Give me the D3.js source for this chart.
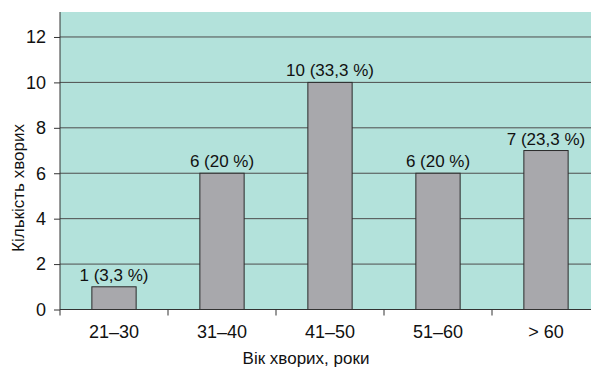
<!DOCTYPE html>
<html><head><meta charset="utf-8">
<script src="https://cdn.jsdelivr.net/npm/d3@7"></script>
<style>body{margin:0;background:#fff;}svg{display:block;font-family:"Liberation Sans",Arial,sans-serif;}</style>
</head><body>
<svg id="c" width="591" height="370"></svg>
<script>
const categories = ["21–30", "31–40", "41–50", "51–60", "> 60"];
const values = [1, 6, 10, 6, 7];
const pctLabels = ["3,3 %", "20 %", "33,3 %", "20 %", "23,3 %"];
const yTicks = [0, 2, 4, 6, 8, 10, 12];
const xTitle = "Вік хворих, роки";
const yTitle = "Кількість хворих";

(function () {
const svg = d3.select("#c");
const pL = 60, pR = 600, pT = 12, pB = 309.5;
const x = d3.scaleBand().domain(categories).range([pL, pR]).paddingInner(0.59).paddingOuter(0.295);
const y = d3.scaleLinear().domain([0, 13.1]).range([pB, pT]);

svg.append("rect").attr("x", pL).attr("y", pT).attr("width", pR - pL).attr("height", pB - pT).attr("fill", "#b3e2db");

// gridlines
svg.append("g").selectAll("line").data(yTicks.filter(d => d > 0)).join("line")
  .attr("x1", pL).attr("x2", pR).attr("y1", d => y(d)).attr("y2", d => y(d))
  .attr("stroke", "#4d4d4d").attr("stroke-width", 1);

// bars
svg.append("g").selectAll("rect").data(values).join("rect")
  .attr("x", (d, i) => x(categories[i])).attr("width", x.bandwidth())
  .attr("y", d => y(d)).attr("height", d => y(0) - y(d))
  .attr("fill", "#a8a8ac").attr("stroke", "#2a2a2a").attr("stroke-width", 1);

// data labels
svg.append("g").selectAll("text").data(values).join("text")
  .attr("x", (d, i) => x(categories[i]) + x.bandwidth() / 2).attr("y", d => y(d) - 6)
  .attr("text-anchor", "middle").attr("font-size", 17).attr("fill", "#111")
  .text((d, i) => d + " (" + pctLabels[i] + ")");

// y axis
const ya = svg.append("g").attr("transform", `translate(${pL},0)`)
  .call(d3.axisLeft(y).tickValues(yTicks).tickSize(6).tickPadding(8));
ya.select(".domain").attr("stroke", "#333").attr("d", `M0,${pT}V${pB}`);
ya.selectAll(".tick line").attr("stroke", "#333");
ya.selectAll("text").attr("font-size", 18).attr("fill", "#111").attr("font-family", "Liberation Sans, Arial, sans-serif");

// x axis
const xb = d3.scaleLinear().domain([0, categories.length]).range([pL, pR]);
const xa = svg.append("g").attr("transform", `translate(0,${pB})`);
xa.append("line").attr("x1", pL).attr("x2", pR).attr("stroke", "#333");
xa.selectAll(".tk").data(d3.range(categories.length)).join("line").attr("class", "tk")
  .attr("x1", d => xb(d)).attr("x2", d => xb(d)).attr("y1", 0).attr("y2", 6).attr("stroke", "#333");
xa.selectAll(".lb").data(categories).join("text").attr("class", "lb")
  .attr("x", d => x(d) + x.bandwidth() / 2).attr("y", 28)
  .attr("text-anchor", "middle").attr("font-size", 18).attr("fill", "#111").text(d => d);

svg.append("text").attr("x", 306).attr("y", 364).attr("text-anchor", "middle")
  .attr("font-size", 17).attr("fill", "#111").text(xTitle);
svg.append("text").attr("transform", "translate(24,188) rotate(-90)").attr("text-anchor", "middle")
  .attr("font-size", 17).attr("fill", "#111").text(yTitle);
})();
</script>
</body></html>
